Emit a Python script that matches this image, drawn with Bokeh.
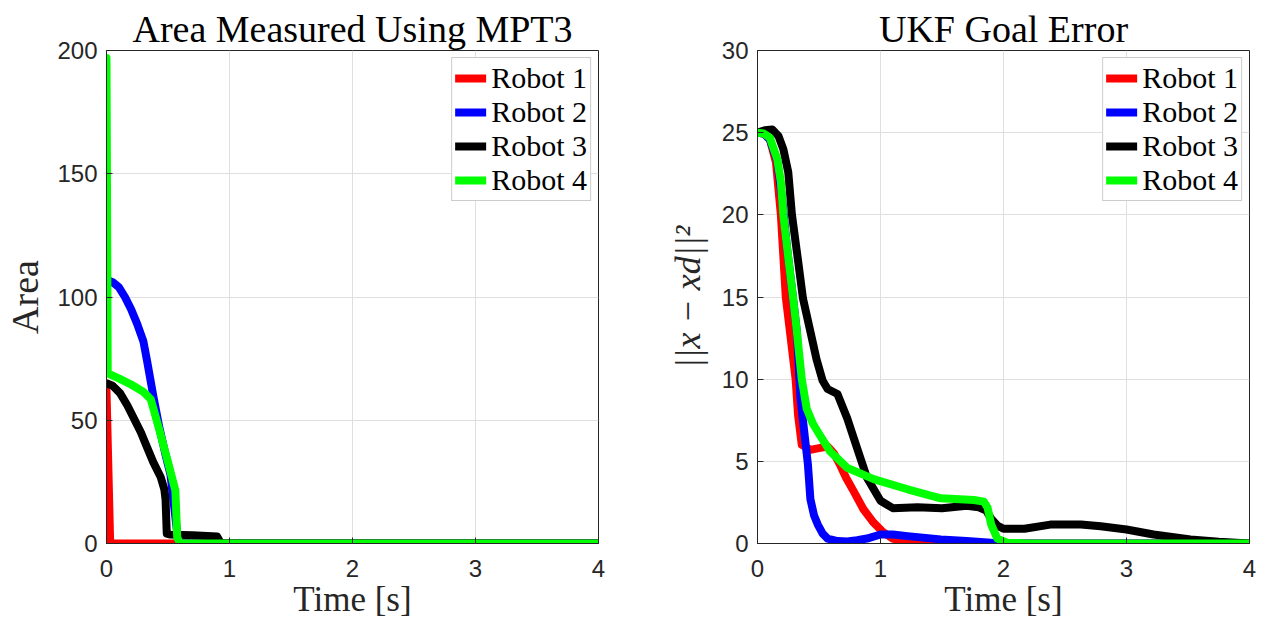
from bokeh.plotting import figure
from bokeh.layouts import row
from bokeh.models import Range1d, FixedTicker
from bokeh.embed import file_html
from bokeh.resources import INLINE

# ---------------- data ----------------
robot_names = ["Robot 1", "Robot 2", "Robot 3", "Robot 4"]
robot_colors = ["#ff0000", "#0000ff", "#000000", "#00ff00"]
x_ticks = [0, 1, 2, 3, 4]
area_y_ticks = [0, 50, 100, 150, 200]
err_y_ticks = [0, 5, 10, 15, 20, 25, 30]

# Area Measured Using MPT3
area_t1 = [0.0, 0.03, 4.0]
area_v1 = [62, 0, 0]
area_t2 = [0.0, 0.05, 0.1, 0.15, 0.2, 0.25, 0.3, 0.33, 0.38, 0.43, 0.48, 0.52, 0.55, 0.58, 0.6, 4.0]
area_v2 = [107, 106, 104, 100, 95, 89, 82, 74, 60, 47, 36, 28, 15, 2, 0, 0]
area_t3 = [0.0, 0.05, 0.11, 0.17, 0.22, 0.28, 0.33, 0.38, 0.44, 0.47, 0.48, 0.49, 0.52, 0.7, 0.9, 0.93, 4.0]
area_v3 = [65, 64, 61, 56, 51, 45, 39, 33, 27, 22, 18, 4, 3.6, 3.3, 2.8, 0, 0]
area_t4 = [0.0, 0.01, 0.1, 0.2, 0.3, 0.36, 0.43, 0.5, 0.56, 0.575, 0.6, 4.0]
area_v4 = [197, 69, 67, 64.5, 61.5, 58.5, 46, 33, 21.5, 2.4, 0, 0]

# UKF Goal Error
err_t1 = [0, 0.05, 0.1, 0.15, 0.19, 0.23, 0.27, 0.31, 0.33, 0.36, 0.43, 0.5, 0.57, 0.62, 0.67,
          0.72, 0.78, 0.86, 0.94, 1.02, 1.1, 1.2, 1.35, 4.0]
err_v1 = [25, 24.95, 24.6, 23.2, 20.0, 15.0, 12.5, 10.0, 7.8, 6.0, 5.7, 5.8, 5.9, 5.5, 4.8,
          4.0, 3.2, 2.1, 1.3, 0.7, 0.3, 0.1, 0, 0]
err_t2 = [0, 0.05, 0.1, 0.16, 0.2, 0.24, 0.28, 0.32, 0.35, 0.38, 0.41, 0.43, 0.46, 0.49, 0.53,
          0.57, 0.65, 0.73, 0.81, 0.89, 1.0, 1.1, 1.22, 1.49, 1.7, 1.9, 2.05, 4.0]
err_v2 = [25, 24.95, 24.6, 23.3, 21.0, 18.0, 15.5, 12.9, 8.8, 6.8, 4.8, 2.7, 1.7, 1.15, 0.6,
          0.3, 0.15, 0.12, 0.2, 0.3, 0.55, 0.55, 0.45, 0.25, 0.15, 0.05, 0, 0]
err_t3 = [0, 0.06, 0.12, 0.17, 0.21, 0.25, 0.28, 0.33, 0.37, 0.43, 0.48, 0.53, 0.57, 0.65, 0.73,
          0.81, 0.89, 1.0, 1.1, 1.3, 1.5, 1.7, 1.8, 1.86, 1.9, 1.95, 2.0, 2.17, 2.38, 2.63,
          2.79, 3.0, 3.22, 3.52, 3.75, 4.0]
err_v3 = [25, 25.15, 25.2, 24.8, 24.0, 22.6, 20.0, 17.2, 14.9, 12.9, 11.2, 9.9, 9.4, 9.1, 7.6,
          5.8, 4.0, 2.6, 2.15, 2.2, 2.15, 2.3, 2.2, 2.0, 1.5, 1.1, 0.9, 0.9, 1.15, 1.15,
          1.05, 0.85, 0.55, 0.25, 0.1, 0.0]
err_t4 = [0, 0.05, 0.1, 0.16, 0.19, 0.21, 0.25, 0.29, 0.32, 0.36, 0.4, 0.45, 0.49, 0.59, 0.73,
          0.95, 1.22, 1.49, 1.76, 1.84, 1.87, 1.9, 1.95, 2.03, 2.2, 4.0]
err_v4 = [25, 24.95, 24.7, 23.4, 22.0, 20.0, 17.4, 14.9, 12.9, 10.0, 8.2, 7.3, 6.8, 5.6, 4.6,
          3.9, 3.3, 2.75, 2.65, 2.55, 2.2, 1.15, 0.3, 0.05, 0, 0]

area_series = [(area_t1, area_v1), (area_t2, area_v2), (area_t3, area_v3), (area_t4, area_v4)]
err_series = [(err_t1, err_v1), (err_t2, err_v2), (err_t3, err_v3), (err_t4, err_v4)]

SERIF = "Liberation Serif"
SANS = "Liberation Sans"
AX = "#262626"


def make_fig(title, ymax, yticks, series, width, left, right):
    p = figure(width=width, height=623, x_range=Range1d(0, 4), y_range=Range1d(0, ymax),
               output_backend="svg", toolbar_location=None,
               min_border_left=left, min_border_right=right,
               min_border_top=50, min_border_bottom=80)
    p.title.text = title
    p.title.align = "center"
    p.title.text_font = SERIF
    p.title.text_font_size = "38px"
    p.title.text_font_style = "normal"
    p.title.text_color = "#000000"
    p.title.standoff = 2
    p.background_fill_color = "white"
    p.border_fill_color = "white"
    p.outline_line_color = AX
    p.outline_line_width = 1

    for ax in (p.xaxis[0], p.yaxis[0]):
        ax.major_label_text_font = SANS
        ax.major_label_text_font_size = "24px"
        ax.major_label_text_color = AX
        ax.axis_line_color = AX
        ax.major_tick_line_color = AX
        ax.major_tick_in = 6
        ax.major_tick_out = 0
        ax.minor_tick_line_color = None
        ax.axis_label_text_font = SERIF
        ax.axis_label_text_font_style = "normal"
        ax.axis_label_text_color = AX
    p.xaxis.ticker = FixedTicker(ticks=x_ticks)
    p.yaxis.ticker = FixedTicker(ticks=yticks)
    p.xaxis.major_label_standoff = 16
    p.yaxis.major_label_standoff = 9
    p.xaxis.axis_label = "Time [s]"
    p.xaxis.axis_label_text_font_size = "35px"
    p.xaxis.axis_label_standoff = 0

    p.grid.grid_line_color = "#dfdfdf"
    p.grid.grid_line_width = 1

    for (t, v), name, col in zip(series, robot_names, robot_colors):
        p.line(t, v, line_color=col, line_width=8, line_cap="round", line_join="round",
               legend_label=name)

    lg = p.legend[0]
    lg.location = "top_right"
    lg.margin = 7
    lg.padding = 3
    lg.spacing = 0
    lg.glyph_width = 31
    lg.glyph_height = 30
    lg.label_standoff = 5
    lg.label_text_font = SERIF
    lg.label_text_font_size = "30px"
    lg.label_text_color = "#000000"
    lg.label_height = 30
    lg.border_line_color = "#9a9a9a"
    lg.border_line_width = 1
    lg.background_fill_color = "white"
    lg.background_fill_alpha = 1.0
    return p


p1 = make_fig("Area Measured Using MPT3", 200, area_y_ticks, area_series, 640, 106, 42)
p1.yaxis.axis_label = "Area"
p1.yaxis.axis_label_text_font_size = "38px"
p1.yaxis.axis_label_standoff = 8

p2 = make_fig("UKF Goal Error", 30, err_y_ticks, err_series, 626, 117, 17)
p2.yaxis.axis_label = "||x \u2212 xd||\u00b2"
p2.yaxis.axis_label_text_font_size = "36px"
p2.yaxis.axis_label_text_font_style = "italic"
p2.yaxis.axis_label_standoff = 11

layout = row(p1, p2)
open("out.html", "w").write(file_html(layout, INLINE))
